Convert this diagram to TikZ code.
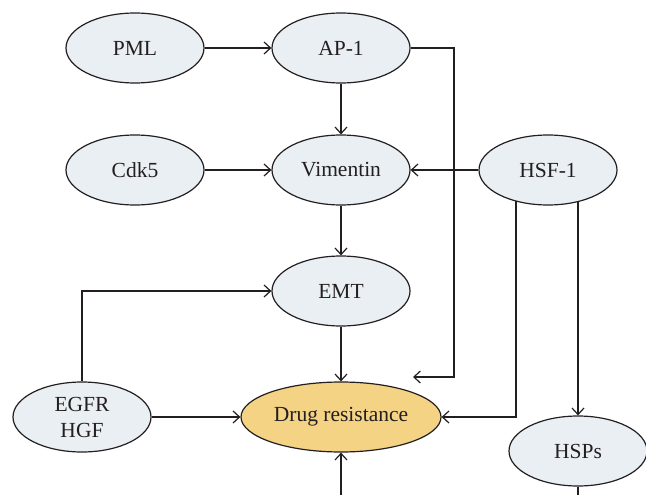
\documentclass[tikz,border=0pt]{standalone}
\usepackage{fontspec}
\setmainfont{Liberation Serif}
\usetikzlibrary{shapes.geometric,arrows.meta}
\definecolor{nodefill}{HTML}{EAEFF4}
\definecolor{drugfill}{HTML}{F4D384}
\definecolor{ink}{HTML}{231F20}
\begin{document}
\begin{tikzpicture}[x=1pt,y=-1pt,
  bio/.style={ellipse,draw=ink,line width=1.2pt,fill=nodefill,minimum width=138pt,
    minimum height=70pt,inner sep=0pt,font=\fontsize{21.5}{26}\selectfont,text=ink},
  link/.style={draw=ink,line width=1.2pt},
  arr/.style={link,-{Straight Barb[length=6.5pt,width=12pt]}}]
\useasboundingbox (0,0) rectangle (646,495);
\clip (0,0) rectangle (646,495);
\node[bio] (pml) at (135,48) {PML};
\node[bio] (ap1) at (341,48) {AP-1};
\node[bio] (cdk) at (135,170) {Cdk5};
\node[bio] (vim) at (341,170) {Vimentin};
\node[bio] (hsf) at (548,170) {HSF-1};
\node[bio] (emt) at (341,291) {EMT};
\node[bio,align=center] (egfr) at (82,417) {EGFR\\HGF};
\node[bio,fill=drugfill,minimum width=200pt] (drug) at (341,417) {Drug resistance};
\node[bio] (hsp) at (578,451) {HSPs};
\coordinate (apcorner) at (454,377);
\coordinate (apend) at (413,377);
\coordinate (hsfleft) at (516,200.6);
\coordinate (hsfright) at (578,201.1);
\coordinate (drugbelow) at (341,500);
\coordinate (hspbelow) at (578,500);
\draw[arr] (pml) -- (ap1);
\draw[arr] (ap1) -- (vim);
\draw[arr] (ap1.east) -| (apcorner) -- (apend);
\draw[arr] (cdk) -- (vim);
\draw[arr] (hsf) -- (vim);
\draw[arr] (vim) -- (emt);
\draw[arr] (egfr.north) |- (emt.west);
\draw[arr] (emt) -- (drug);
\draw[arr] (egfr) -- (drug);
\draw[arr] (hsfleft) |- (drug.east);
\draw[arr] (hsfright) -- (hsp.north);
\draw[arr] (drugbelow) -- (drug.south);
\draw[link] (hsp.south) -- (hspbelow);
\end{tikzpicture}
\end{document}
